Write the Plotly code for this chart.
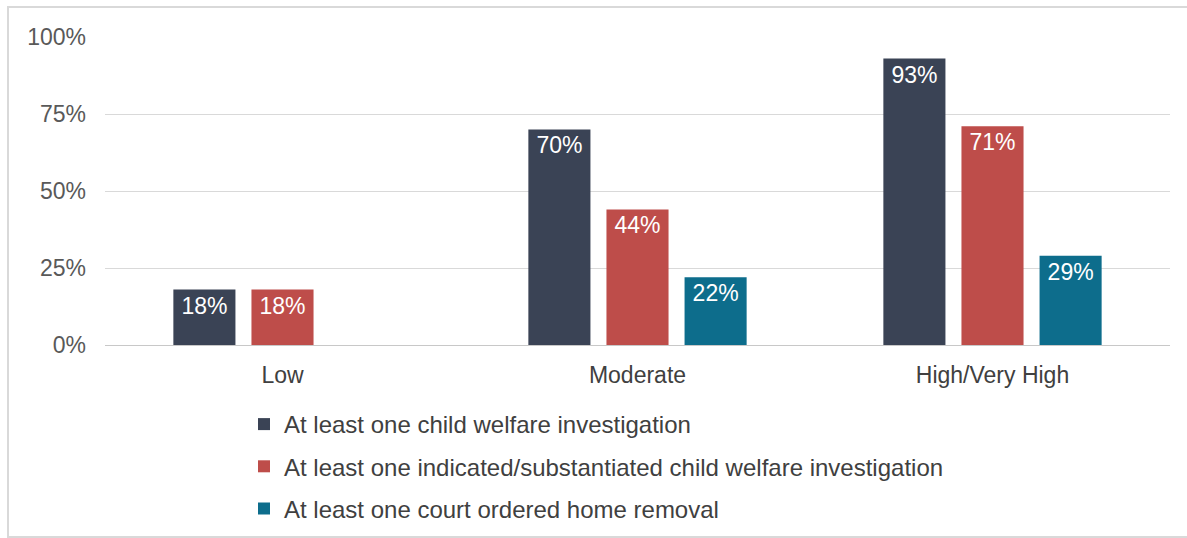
import plotly.graph_objects as go

categories = ["Low", "Moderate", "High/Very High"]
series_names = [
    "At least one child welfare investigation",
    "At least one indicated/substantiated child welfare investigation",
    "At least one court ordered home removal",
]
investigation = [18, 70, 93]
substantiated = [18, 44, 71]
removal = [None, 22, 29]
y_ticks = [0, 25, 50, 75, 100]
y_tick_labels = ["0%", "25%", "50%", "75%", "100%"]

colors = ["#3a4355", "#be4d4a", "#0d6d8c"]
values = [investigation, substantiated, removal]

W, H = 1187, 538
L, R, T, B = 105, 17, 37, 193
pw, ph = W - L - R, H - T - B

FONT = "Liberation Sans, Arial, sans-serif"

fig = go.Figure()
for i, (name, vals, col) in enumerate(zip(series_names, values, colors)):
    fig.add_trace(go.Bar(
        x=categories, y=vals, name=name, marker=dict(color=col, line=dict(width=0)),
        text=[f"{v}%" if v is not None else "" for v in vals],
        textposition="inside", insidetextanchor="end",
        textfont=dict(color="white", size=23, family=FONT),
        legendgroup=f"g{i}", cliponaxis=False,
    ))

def px_x(p):
    return (p - L) / pw

def px_y(p):
    return (H - B - p) / ph

fig.add_shape(type="rect", xref="paper", yref="paper",
              x0=px_x(8), x1=px_x(1200), y0=px_y(537), y1=px_y(7),
              line=dict(color="#d9d9d9", width=2), fillcolor="rgba(0,0,0,0)", layer="below")

fig.update_layout(
    width=W, height=H,
    margin=dict(l=L, r=R, t=T, b=B, autoexpand=False),
    barmode="group", bargap=0.34, bargroupgap=0.205,
    plot_bgcolor="white", paper_bgcolor="white",
    font=dict(family=FONT, color="#595959", size=23),
    xaxis=dict(showgrid=False, showline=False, ticks="", ticklabelstandoff=14,
               tickfont=dict(size=23, color="#404040")),
    yaxis=dict(range=[0, 100], tickvals=y_ticks, ticktext=y_tick_labels,
               showgrid=True, gridcolor="#d9d9d9", gridwidth=1,
               zeroline=True, zerolinecolor="#c8c8c8", zerolinewidth=1,
               tickfont=dict(size=23, color="#595959"), ticks="", ticklabelstandoff=18),
    showlegend=True,
    legend=dict(orientation="v", x=px_x(244), y=px_y(402), xanchor="left", yanchor="top",
                font=dict(size=24, color="#404040"), tracegroupgap=8,
                itemwidth=30, bgcolor="rgba(0,0,0,0)"),
)

fig.write_html("out.html", config={"displayModeBar": False},
               post_script="document.body.style.margin='0';")
